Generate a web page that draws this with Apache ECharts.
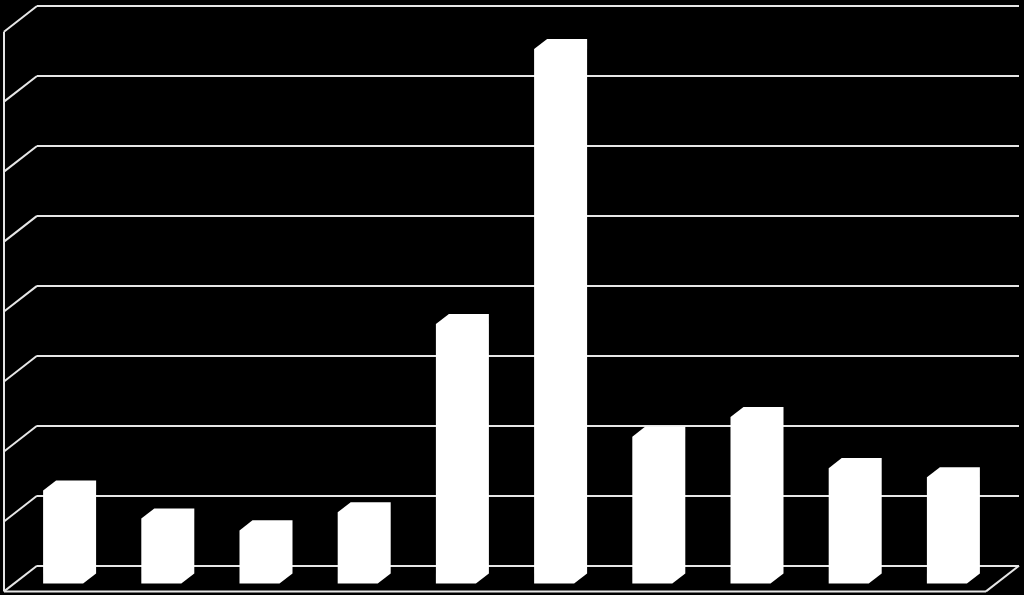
<!DOCTYPE html>
<html>
<head>
<meta charset="utf-8">
<style>
  html, body { margin: 0; padding: 0; background: #000; }
  #main { width: 1024px; height: 595px; }
</style>
<script src="https://cdn.jsdelivr.net/npm/echarts@6/dist/echarts.min.js"></script>
</head>
<body>
<div id="main"></div>
<script>
// data (no labels shown, scale 0-80)
const categories = ['1', '2', '3', '4', '5', '6', '7', '8', '9', '10'];
const values = [13.3, 9.3, 7.6, 10.2, 37.1, 76.4, 21.0, 23.8, 16.5, 15.2];
const yTicks = [0, 10, 20, 30, 40, 50, 60, 70, 80];

// fake 3d: walls are pushed forward by DX px, going down DY px
const DX = 33;
const DY = 25.7;
const K = DY / DX;
const BAR_BACK = 10;   // bar back face shift from the wall
const BAR_FRONT = 23;  // bar front face shift
const BAR_HALF = 20;   // half bar width
const LINE = '#e6e6e6';

var myChart = echarts.init(document.getElementById('main'));

function line(x1, y1, x2, y2) {
  return {
    type: 'line',
    shape: { x1: x1, y1: y1, x2: x2, y2: y2 },
    style: { stroke: LINE, lineWidth: 2 }
  };
}

var option = {
  backgroundColor: '#000',
  animation: false,
  grid: { left: 37, right: 5, top: 6, bottom: 29.3 },
  xAxis: {
    type: 'category',
    data: categories,
    show: false
  },
  yAxis: {
    type: 'value',
    min: 0,
    max: 80,
    interval: 10,
    axisLine: { show: false },
    axisTick: { show: false },
    axisLabel: { show: false },
    splitLine: { lineStyle: { color: LINE, width: 2 } }
  },
  series: [
    {
      // side wall and floor edges
      type: 'custom',
      z: 1,
      data: yTicks.map(v => [0, v]),
      encode: { x: 0, y: 1 },
      renderItem: function (params, api) {
        const cs = params.coordSys;
        const y = api.coord([0, api.value(1)])[1];
        const x0 = cs.x;
        const children = [line(x0, y, x0 - DX, y + DY)];
        if (params.dataIndex === 0) {
          const bottom = cs.y + cs.height;
          children.push(line(x0 - DX, cs.y + DY, x0 - DX, bottom + DY));
          children.push(line(x0 - DX, bottom + DY, x0 + cs.width - DX, bottom + DY));
          children.push(line(x0 + cs.width - DX, bottom + DY, x0 + cs.width, bottom));
        }
        return { type: 'group', children: children };
      }
    },
    {
      // white bars, drawn as silhouettes
      type: 'custom',
      z: 2,
      data: values.map((v, i) => [i, v]),
      encode: { x: 0, y: 1 },
      renderItem: function (params, api) {
        const top = api.coord([api.value(0), api.value(1)]);
        const base = api.coord([api.value(0), 0]);
        const fx = top[0] - BAR_FRONT;
        const bx = top[0] - BAR_BACK;
        const fdy = BAR_FRONT * K;
        const bdy = BAR_BACK * K;
        return {
          type: 'polygon',
          shape: {
            points: [
              [fx - BAR_HALF, base[1] + fdy],
              [fx - BAR_HALF, top[1] + fdy],
              [bx - BAR_HALF, top[1] + bdy],
              [bx + BAR_HALF, top[1] + bdy],
              [bx + BAR_HALF, base[1] + bdy],
              [fx + BAR_HALF, base[1] + fdy]
            ]
          },
          style: { fill: '#fff' }
        };
      }
    }
  ]
};

myChart.setOption(option);
</script>
</body>
</html>
